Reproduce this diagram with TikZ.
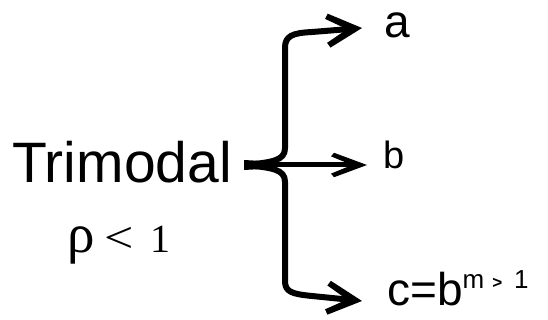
\documentclass[tikz,border=0pt]{standalone}
\usepackage{fontspec}
\setmainfont{Liberation Sans}
\newfontfamily\rhofont{Liberation Serif}
\usetikzlibrary{arrows.meta}

\tikzset{
  chev/.pic={\fill (0,0) -- (-33,-17) -- (-36,-12) -- (-15,0)
    -- (-36,12) -- (-33,17) -- cycle;}
}

\begin{document}
\begin{tikzpicture}[x=1pt,y=-1pt,
    lbl/.style={inner sep=0pt, anchor=base west},
    brc/.style={line width=6pt, line join=round, shorten >=12pt}]
  \useasboundingbox (0,0) rectangle (548,320);
  % left labels
  \node[lbl, font=\fontsize{57}{60}\selectfont] (tri) at (12,183) {Trimodal};
  \node[lbl, font=\rhofont\fontsize{40}{44}\selectfont] (rho) at (67,252)
    {{\fontsize{55}{56}\selectfont ρ}\hspace{10pt}\scalebox{1.3}[1.1]{<}\hspace{17pt}1};
  % right labels
  \node[lbl, font=\fontsize{46}{50}\selectfont] (a) at (384,38) {a};
  \node[lbl, font=\fontsize{38}{42}\selectfont] (b) at (383,169) {b};
  \node[lbl, font=\fontsize{46}{50}\selectfont] (c) at (387,305)
    {c=b\raisebox{17pt}{\fontsize{26}{28}\selectfont m\hspace{8pt}{\fontsize{17}{18}\selectfont\textbf{>}}\hspace{12pt}1}};
  % brace point and arrow ends
  \coordinate (tip) at (246,165);
  \coordinate (ha) at ([xshift=-22pt,yshift=10pt]a.base west);
  \coordinate (hb) at ([xshift=-16pt,yshift=4pt]b.base west);
  \coordinate (hc) at ([xshift=-25pt,yshift=4pt]c.base west);
  % the brace with its three arrows
  \fill (244,160) -- (262,161) -- (262,169) -- (244,170) -- cycle;
  \draw[brc] (tip) .. controls (272,162) and (285,161) .. (285,148)
    -- (285,48) .. controls (285,36) and (292,33) .. (312,32) -- (ha);
  \draw[brc, line width=5pt] (tip) -- (hb);
  \draw[brc] (tip) .. controls (272,168) and (285,169) .. (285,182)
    -- (285,281) .. controls (285,292) and (292,294) .. (312,296) -- (hc);
  % arrow heads
  \pic[rotate=4.6] at (ha) {chev};
  \pic[yscale=0.72] at (hb) {chev};
  \pic[rotate=-5.7] at (hc) {chev};
\end{tikzpicture}
\end{document}
